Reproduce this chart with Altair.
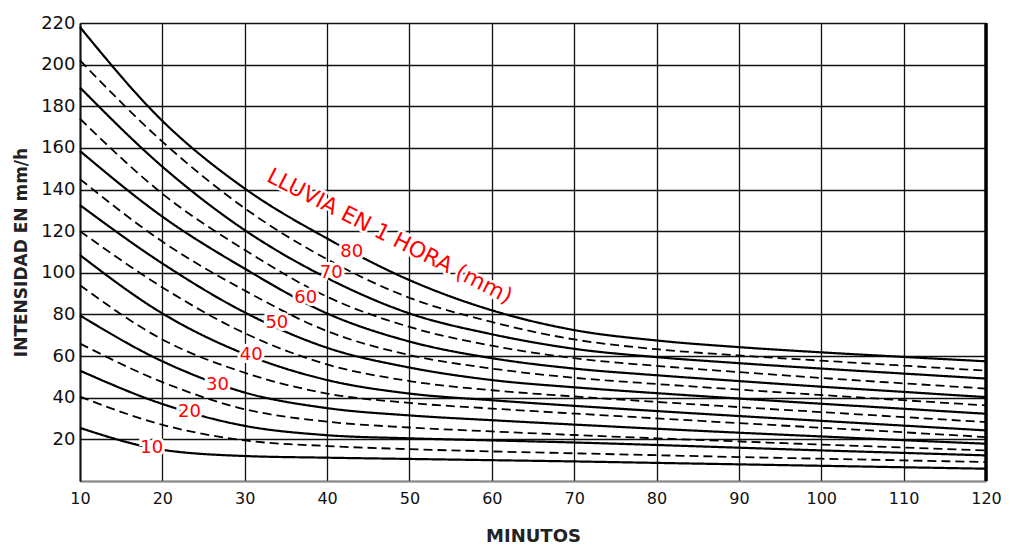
import altair as alt
import pandas as pd

# Minutes (x axis)
minutes = [10, 20, 30, 40, 50, 60, 70, 80, 90, 100, 110, 120]

# Rain in 1 hour (mm) -> intensity curves (mm/h)
curve_80 = [218, 173, 140.5, 116.5, 96.5, 82, 72.5, 67.5, 64.3, 61.8, 59.6, 57.5]
curve_75 = [202, 163, 131, 106.5, 88, 76.4, 68, 63.3, 60.3, 57.8, 55.4, 53]
curve_70 = [189, 151, 120.5, 97.5, 80.5, 70.5, 63.5, 59.5, 56.6, 54, 51.6, 49.2]
curve_65 = [174, 138, 111, 88.5, 74, 65, 59, 55.3, 52.3, 49.5, 46.9, 44.4]
curve_60 = [158.5, 127, 102, 80.5, 67, 59, 54, 50.8, 48, 45.3, 42.8, 40.3]
curve_55 = [145, 115, 91.5, 72, 60.5, 54, 49.6, 46.6, 43.9, 41.3, 38.8, 36.3]
curve_50 = [132.5, 104.5, 81, 64, 54.5, 48.5, 45, 42.2, 39.6, 37.1, 34.7, 32.3]
curve_45 = [120, 93, 71, 56, 48, 43.6, 40.6, 38, 35.5, 33.1, 30.7, 28.3]
curve_40 = [108.5, 80.5, 61, 48.5, 42, 38.8, 36.1, 33.6, 31.2, 28.9, 26.6, 24.3]
curve_35 = [94, 68, 52, 42, 37.5, 34.8, 32.4, 30.1, 27.8, 25.6, 23.4, 21.1]
curve_30 = [79.5, 57.5, 42.5, 35, 31.5, 29.2, 27.1, 25.1, 23.2, 21.4, 19.6, 17.9]
curve_25 = [66, 47.5, 34.5, 28.5, 25.7, 23.8, 22.1, 20.5, 19, 17.5, 16.1, 14.7]
curve_20 = [53, 37, 26.5, 22, 20.5, 19.5, 18.5, 17.3, 16, 14.7, 13.5, 12.3]
curve_15 = [40.5, 27, 19.5, 16.8, 15.3, 14.2, 13.3, 12.4, 11.5, 10.7, 9.9, 9.1]
curve_10 = [25.5, 15, 12, 11.2, 10.6, 10, 9.4, 8.7, 8, 7.3, 6.6, 5.9]

curves = {
    80: curve_80, 75: curve_75, 70: curve_70, 65: curve_65, 60: curve_60,
    55: curve_55, 50: curve_50, 45: curve_45, 40: curve_40, 35: curve_35,
    30: curve_30, 25: curve_25, 20: curve_20, 15: curve_15, 10: curve_10,
}

# Red curve labels (value, minute, intensity where the label sits)
label_text = ["10", "20", "30", "40", "50", "60", "70", "80"]
label_min = [18.7, 23.3, 26.7, 30.8, 33.9, 37.4, 40.5, 43.0]
label_int = [15.7, 33.0, 46.0, 60.4, 75.8, 87.8, 99.9, 110.0]

note_text = ["LLUVIA EN 1 HORA (mm)"]
note_min = [47.6]
note_int = [117.6]

x_ticks = list(range(10, 121, 10))
y_ticks = list(range(0, 221, 20))

rows = []
for p, vals in curves.items():
    for m, v in zip(minutes, vals):
        rows.append({"min": m, "val": v, "P": p,
                     "tipo": "solid" if p % 10 == 0 else "dashed"})
df = pd.DataFrame(rows)

labels_df = pd.DataFrame({"t": label_text, "x": label_min, "y": label_int})
note_df = pd.DataFrame({"t": note_text, "x": note_min, "y": note_int})

FONT = "DejaVu Sans"

xscale = alt.Scale(domain=[10, 120], nice=False, zero=False)
yscale = alt.Scale(domain=[0, 220], nice=False)

xaxis = alt.Axis(values=x_ticks, title="MINUTOS", grid=True, gridColor="#111",
                 gridWidth=1.3, ticks=False, labelPadding=9, labelFontSize=16,
                 labelFont=FONT, labelColor="#111", titleFont=FONT,
                 titleFontSize=18, titleFontWeight="bold", titleColor="#222",
                 titlePadding=21, domainColor="#888", domainWidth=1.5,
                 labelFlush=False)
yaxis = alt.Axis(values=y_ticks, title="INTENSIDAD EN mm/h", grid=True,
                 gridColor="#111", gridWidth=1.3, ticks=False, labelPadding=5,
                 labelFontSize=18, labelFont=FONT, labelColor="#111",
                 labelExpr="datum.value == 0 ? '' : datum.label",
                 titleFont=FONT, titleFontSize=17, titleFontWeight="bold",
                 titleColor="#222", titlePadding=10, domainColor="#111",
                 domainWidth=2, labelFlush=False)

lines = alt.Chart(df).mark_line(interpolate="monotone", color="black").encode(
    x=alt.X("min:Q", scale=xscale, axis=xaxis),
    y=alt.Y("val:Q", scale=yscale, axis=yaxis),
    detail="P:N",
    strokeDash=alt.StrokeDash("tipo:N", scale=alt.Scale(
        domain=["solid", "dashed"], range=[[1, 0], [9, 5]]), legend=None),
    strokeWidth=alt.StrokeWidth("tipo:N", scale=alt.Scale(
        domain=["solid", "dashed"], range=[2.2, 1.8]), legend=None),
)

right_edge = alt.Chart(pd.DataFrame({"x": [120]})).mark_rule(
    color="black", strokeWidth=3.5).encode(x=alt.X("x:Q", scale=xscale))

halo = alt.Chart(labels_df).mark_text(
    font=FONT, fontSize=18, color="white", stroke="white", strokeWidth=6
).encode(x=alt.X("x:Q", scale=xscale), y=alt.Y("y:Q", scale=yscale), text="t:N")

txt = alt.Chart(labels_df).mark_text(
    font=FONT, fontSize=18, color="#ff0000"
).encode(x=alt.X("x:Q", scale=xscale), y=alt.Y("y:Q", scale=yscale), text="t:N")

note_halo = alt.Chart(note_df).mark_text(
    font=FONT, fontSize=22, color="white", stroke="white", strokeWidth=5,
    angle=27
).encode(x=alt.X("x:Q", scale=xscale), y=alt.Y("y:Q", scale=yscale), text="t:N")

note = alt.Chart(note_df).mark_text(
    font=FONT, fontSize=22, color="#ff0000", angle=27
).encode(x=alt.X("x:Q", scale=xscale), y=alt.Y("y:Q", scale=yscale), text="t:N")

chart = alt.layer(lines, right_edge, halo, txt, note_halo, note).properties(
    width=906, height=458,
    autosize=alt.AutoSizeParams(type="none"),
    padding={"left": 72, "top": 15, "right": 16, "bottom": 64},
    background="white",
).configure_view(strokeWidth=0)

chart.save("out.html", embed_options={"renderer": "svg", "actions": False})
